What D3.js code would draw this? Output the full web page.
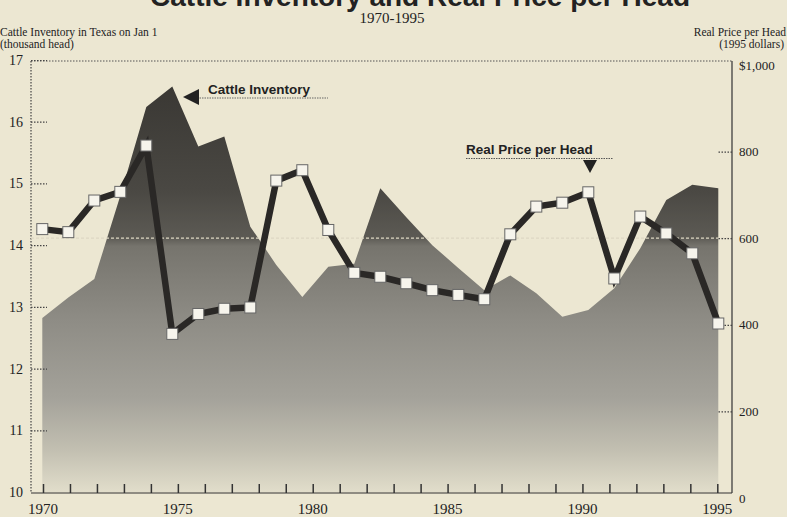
<!DOCTYPE html>
<html><head><meta charset="utf-8">
<script src="https://cdn.jsdelivr.net/npm/d3@7"></script>
<style>
html,body{margin:0;padding:0;background:#ece7d2;}
svg{display:block;}
.serif{font-family:"Liberation Serif","DejaVu Serif",serif;fill:#222;}
.sans{font-family:"Liberation Sans","DejaVu Sans",sans-serif;font-weight:bold;fill:#222;}
</style></head>
<body>
<svg id="chart" width="787" height="517"></svg>
<script>
// ---- data ----
const years = d3.range(1970, 1997); // 27 data points
const cattleInventory = [12.82,13.15,13.45,14.8,16.24,16.57,15.6,15.76,14.3,13.68,13.16,13.65,13.7,14.92,14.45,14.0,13.63,13.27,13.51,13.22,12.84,12.95,13.3,13.95,14.73,14.98,14.92];
const realPrice = [621,614,687,707,814,379,425,437,440,733,757,619,520,511,496,480,469,459,609,673,682,706,507,650,611,565,403];
const axisYears = d3.range(1970, 1996);
const yearLabels = [1970,1975,1980,1985,1990,1995];
const leftTicks = [10,11,12,13,14,15,16,17];
const rightTicks = [0,200,400,600,800,1000];

const svg = d3.select("#chart");
const L = 31, R = 732, T = 61, B = 493;

const x = d3.scalePoint().domain(years).range([42.3, 718.3]);
const xAxisScale = d3.scaleLinear().domain([1970,1995]).range([43, 717.3]);
const yL = d3.scaleLinear().domain([10,17]).range([492, 60]);
const yR = d3.scaleLinear().domain([0,1000]).range([498, 65]);

// gradient
const defs = svg.append("defs");
const g = defs.append("linearGradient").attr("id","ag").attr("gradientUnits","userSpaceOnUse")
  .attr("x1",0).attr("x2",0).attr("y1",60).attr("y2",493);
[[0,"#363430"],[0.3,"#4a4843"],[0.41,"#5c5a54"],[0.43,"#76746d"],[0.6,"#8e8c85"],[0.78,"#a4a29a"],[0.9,"#c2bfb1"],[1,"#e2decb"]]
  .forEach(([o,c])=>g.append("stop").attr("offset",o).attr("stop-color",c));

// area
const area = d3.area().x((d,i)=>x(years[i])).y0(yL(10)).y1(d=>yL(d));
svg.append("path").datum(cattleInventory).attr("d",area).attr("fill","url(#ag)");

// frame
svg.append("line").attr("x1",L).attr("x2",R).attr("y1",T).attr("y2",T)
  .attr("stroke","#555").attr("stroke-width",1.2).attr("stroke-dasharray","1.5,1.5");
svg.append("line").attr("x1",L).attr("x2",L).attr("y1",T).attr("y2",B)
  .attr("stroke","#444").attr("stroke-width",1.2).attr("stroke-dasharray","1.5,1.5");

// faint gridline at 600
svg.append("line").attr("x1",L).attr("x2",R).attr("y1",yR(600)).attr("y2",yR(600))
  .attr("stroke","#ddd8c4").attr("stroke-width",1.2).attr("stroke-dasharray","3,2");

// left axis
const la = svg.append("g").attr("transform",`translate(${L},0)`)
  .call(d3.axisLeft(yL).tickValues(leftTicks).tickSize(-16).tickPadding(8).tickFormat(d3.format("d")));
la.select(".domain").remove();
la.selectAll(".tick line").attr("stroke","#444").attr("stroke-dasharray","1.5,1.5").attr("stroke-width",1.2);
la.selectAll(".tick").filter(d=>d===10).select("line").remove();
la.selectAll(".tick text").attr("class","serif").attr("font-size",14).attr("fill","#222");

// right axis
const ra = svg.append("g").attr("transform",`translate(${R},0)`)
  .call(d3.axisRight(yR).tickValues(rightTicks).tickSize(-15).tickPadding(7)
    .tickFormat(d=>d===1000?"$1,000":d3.format("d")(d)));
ra.select(".domain").attr("d",`M0,${T}V${B}`).attr("stroke","#333").attr("stroke-width",1.2);
ra.selectAll(".tick line").attr("stroke","#444").attr("stroke-dasharray","1.5,1.5").attr("stroke-width",1.2);
ra.selectAll(".tick").filter(d=>d===0||d===1000).select("line").remove();
ra.selectAll(".tick text").attr("class","serif").attr("font-size",13).attr("fill","#222");

// bottom axis
const ba = svg.append("g").attr("transform",`translate(0,${B})`)
  .call(d3.axisBottom(xAxisScale).tickValues(axisYears).tickSize(-9).tickPadding(0).tickFormat(""));
ba.select(".domain").attr("d",`M${L},0H${R}`).attr("stroke","#333").attr("stroke-width",1.2);
ba.selectAll(".tick line").attr("stroke","#333").attr("stroke-width",1.5);
svg.append("g").selectAll("text").data(yearLabels).join("text")
  .attr("class","serif").attr("x",d=>xAxisScale(d)).attr("y",514)
  .attr("text-anchor","middle").attr("font-size",15).text(d=>d);

// price line
const line = d3.line().x((d,i)=>x(years[i])).y(d=>yR(d));
svg.append("path").datum(realPrice).attr("d",line).attr("fill","none")
  .attr("stroke","#2a2826").attr("stroke-width",6.5).attr("stroke-linejoin","miter");
svg.append("g").selectAll("rect").data(realPrice).join("rect")
  .attr("x",(d,i)=>x(years[i])-5.5).attr("y",d=>yR(d)-5.5)
  .attr("width",11).attr("height",11)
  .attr("fill","#f6f4ec").attr("stroke","#666").attr("stroke-width",1);

// annotations
svg.append("text").attr("class","sans").attr("x",208).attr("y",94).attr("font-size",13.5).text("Cattle Inventory");
svg.append("line").attr("x1",197).attr("x2",328).attr("y1",98).attr("y2",98)
  .attr("stroke","#666").attr("stroke-width",1).attr("stroke-dasharray","1.5,1");
svg.append("path").attr("d","M183,97L199,89L199,105Z").attr("fill","#222");

svg.append("text").attr("class","sans").attr("x",466).attr("y",154).attr("font-size",13.5).text("Real Price per Head");
svg.append("line").attr("x1",466).attr("x2",613).attr("y1",158.5).attr("y2",158.5)
  .attr("stroke","#555").attr("stroke-width",1).attr("stroke-dasharray","1.5,1");
svg.append("path").attr("d","M583,160L597,160L590,173Z").attr("fill","#222");

// titles
svg.append("text").attr("class","sans").attr("x",690).attr("y",6).attr("text-anchor","end")
  .attr("font-size",28).text("Cattle Inventory and Real Price per Head");
svg.append("text").attr("class","serif").attr("x",392).attr("y",23).attr("text-anchor","middle")
  .attr("font-size",15).text("1970-1995");
svg.append("text").attr("class","serif").attr("x",0).attr("y",36).attr("font-size",11.5).text("Cattle Inventory in Texas on Jan 1");
svg.append("text").attr("class","serif").attr("x",0).attr("y",48).attr("font-size",11.5).text("(thousand head)");
svg.append("text").attr("class","serif").attr("x",786).attr("y",36).attr("text-anchor","end").attr("font-size",11.5).text("Real Price per Head");
svg.append("text").attr("class","serif").attr("x",784).attr("y",48).attr("text-anchor","end").attr("font-size",11.5).text("(1995 dollars)");
</script>
</body></html>
